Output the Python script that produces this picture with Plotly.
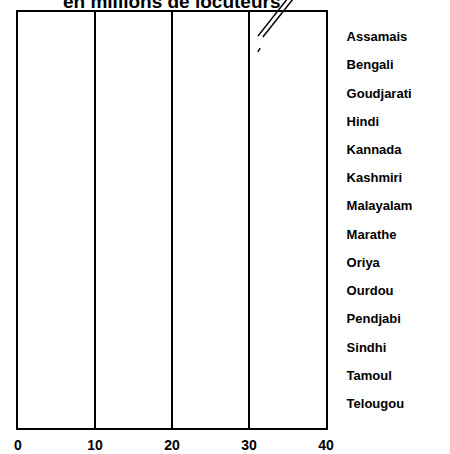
import plotly.graph_objects as go

# Languages listed down the right-hand side
languages = [
    "Assamais", "Bengali", "Goudjarati", "Hindi", "Kannada", "Kashmiri",
    "Malayalam", "Marathe", "Oriya", "Ourdou", "Pendjabi", "Sindhi",
    "Tamoul", "Telougou",
]
x_ticks = [0, 10, 20, 30, 40]
title_text = "en millions de locuteurs"

fig = go.Figure()

# Placeholder trace that fixes the category axis
fig.add_trace(go.Scatter(
    x=[0] * len(languages),
    y=languages,
    mode="markers",
    marker=dict(opacity=0),
    hoverinfo="skip",
    showlegend=False,
))

font_family = "Liberation Sans, Arial, sans-serif"

fig.update_layout(
    width=450,
    height=454,
    margin=dict(l=18, r=124, t=12, b=26, autoexpand=False),
    paper_bgcolor="white",
    plot_bgcolor="white",
    xaxis=dict(
        range=[0, 40],
        tickvals=x_ticks,
        ticktext=[str(v) for v in x_ticks],
        showgrid=True,
        gridcolor="black",
        gridwidth=2,
        zeroline=False,
        showline=True,
        linecolor="black",
        linewidth=2,
        mirror=True,
        ticks="",
        ticklabelstandoff=3,
        automargin=False,
        tickfont=dict(family=font_family, size=14, color="black", weight="bold"),
        fixedrange=True,
    ),
    yaxis=dict(
        type="category",
        categoryorder="array",
        categoryarray=languages,
        autorange="reversed",
        side="right",
        showgrid=False,
        zeroline=False,
        showline=True,
        linecolor="black",
        linewidth=2,
        mirror=True,
        ticks="",
        automargin=False,
        ticklabelstandoff=16,
        tickfont=dict(family=font_family, size=13, color="black", weight="bold"),
        fixedrange=True,
    ),
    annotations=[dict(
        text=title_text,
        xref="paper", yref="paper",
        x=0.5, y=1, xanchor="center", yanchor="bottom",
        yshift=-2,
        showarrow=False,
        font=dict(family=font_family, size=19, color="black", weight="bold"),
    )],
    shapes=[
        dict(type="line", xref="paper", yref="paper",
             x0=0.779, y0=0.942, x1=0.877, y1=1.034,
             line=dict(color="black", width=1.5)),
        dict(type="line", xref="paper", yref="paper",
             x0=0.795, y0=0.940, x1=0.896, y1=1.034,
             line=dict(color="black", width=1.5)),
        dict(type="line", xref="paper", yref="paper",
             x0=0.779, y0=0.904, x1=0.786, y1=0.913,
             line=dict(color="black", width=1.5)),
    ],
)

fig.write_html("out.html")
